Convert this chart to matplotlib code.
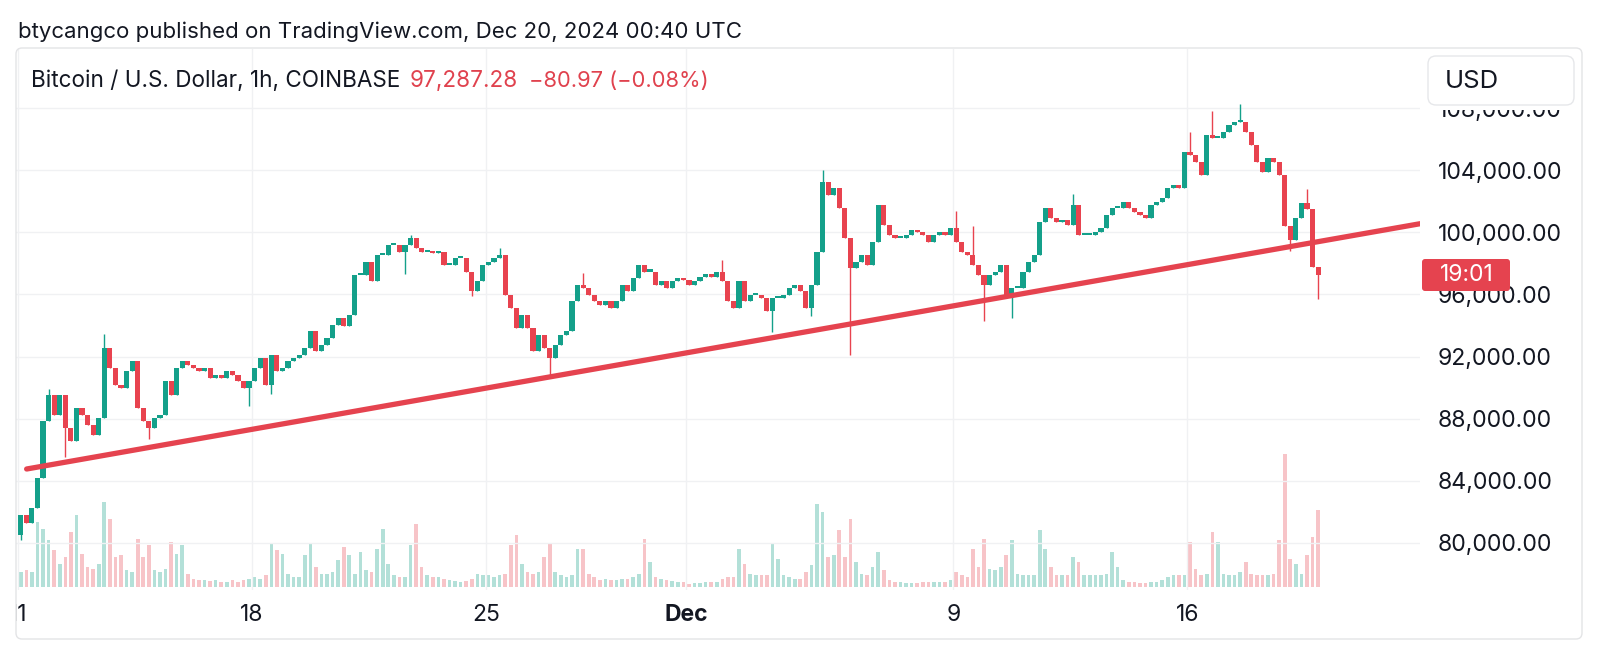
import numpy as np
import matplotlib
matplotlib.use("Agg")
import matplotlib.pyplot as plt
from matplotlib.patches import FancyBboxPatch, Rectangle
from matplotlib.transforms import IdentityTransform, Bbox, TransformedBbox

W, H = 1597, 652

plt.rcParams["font.family"] = ["Inter", "DejaVu Sans"]

# 4h candles, hour 0 = Nov 11 2024 00:00 UTC
first_open = 80518
closes = [
    81807, 81270, 82236, 84168, 87818, 89536, 88248, 89536, 87389, 86530,
    88677, 88248, 87604, 86959, 88033, 92542, 91254, 90180, 89965, 91039,
    91683, 88677, 87818, 87389, 88033, 88248, 90395, 89536, 91254, 91683,
    91468, 91254, 91039, 91254, 90609, 90824, 90609, 91039, 90824, 90395,
    89965, 90395, 91254, 91898, 90180, 92113, 91039, 91254, 91683, 91898,
    92113, 92542, 93616, 92327, 92757, 93186, 94045, 94470, 93940, 94689,
    97265, 97265, 98124, 96836, 98554, 98554, 99197, 99197, 98768, 99197,
    99627, 98983, 98768, 98768, 98661, 98768, 97909, 97909, 98339, 98339,
    97480, 96192, 96836, 97909, 98124, 98339, 98554, 95977, 95118, 93830,
    94689, 93830, 92327, 93401, 92542, 91898, 92757, 93401, 93615, 95547,
    96621, 96406, 95977, 95547, 95333, 95547, 95118, 95547, 96621, 96192,
    97051, 97909, 97480, 97480, 96621, 96836, 96406, 96836, 97051, 96943,
    96621, 96836, 97158, 97265, 97158, 97480, 96836, 95547, 95118, 96836,
    95547, 95977, 95977, 95762, 94903, 95762, 95762, 95977, 96406, 96621,
    96192, 95118, 96621, 98768, 103277, 102418, 102847, 101559, 99627, 97694,
    98124, 98554, 97909, 99412, 101774, 100485, 99841, 99627, 99627, 99841,
    100164, 100056, 99841, 99412, 99841, 100056, 99841, 100271, 99412, 98768,
    98554, 97909, 97265, 96621, 97265, 97480, 97909, 95977, 96406, 96406,
    97480, 98124, 98554, 100700, 101559, 100915, 100700, 100807, 100485, 101774,
    99841, 99841, 99841, 100056, 100271, 101130, 101559, 101559, 101988, 101559,
    101344, 101130, 100915, 101774, 101988, 102203, 102847, 103062, 102847, 105209,
    104994, 104565, 103706, 106282, 106068, 106068, 106497, 106927, 107141, 107141,
    106497, 105638, 104565, 103921, 104780, 104565, 103700, 100400, 99500, 100900,
    101900, 101500, 97800, 97287,
]

# volume bar heights (relative units, peak of the hourly bars in each 4h slot)
volumes = [
    45, 50, 45, 195, 175, 140, 110, 70, 90, 165,
    215, 100, 60, 55, 70, 255, 205, 90, 95, 50,
    45, 145, 90, 125, 50, 45, 55, 135, 100, 125,
    40, 25, 20, 20, 18, 20, 15, 15, 20, 15,
    20, 25, 30, 25, 35, 130, 110, 100, 40, 30,
    30, 95, 130, 60, 40, 40, 45, 80, 120, 95,
    40, 105, 50, 45, 115, 175, 70, 35, 30, 30,
    125, 190, 60, 35, 30, 30, 25, 20, 18, 15,
    18, 25, 40, 35, 35, 30, 35, 40, 125, 155,
    70, 45, 40, 45, 90, 130, 45, 35, 30, 35,
    115, 115, 40, 30, 20, 25, 20, 20, 25, 25,
    30, 40, 145, 75, 30, 25, 20, 18, 15, 15,
    10, 12, 12, 15, 15, 15, 25, 30, 30, 115,
    70, 40, 35, 35, 35, 130, 85, 35, 30, 25,
    25, 45, 65, 250, 225, 90, 95, 170, 90, 205,
    75, 40, 35, 60, 105, 50, 20, 15, 15, 12,
    12, 12, 15, 15, 15, 15, 15, 20, 45, 35,
    30, 115, 60, 145, 55, 50, 60, 95, 140, 40,
    35, 35, 35, 170, 115, 60, 35, 35, 35, 90,
    75, 35, 35, 35, 35, 40, 105, 60, 20, 15,
    15, 12, 12, 15, 15, 20, 30, 35, 35, 35,
    135, 55, 35, 40, 165, 135, 40, 35, 35, 45,
    75, 40, 35, 35, 35, 40, 140, 400, 85, 70,
    40, 95, 150, 230,
]

# long wicks visible on the chart: candle index -> extreme price
spike_idx = [0, 5, 8, 15, 23, 41, 45, 69, 70, 81, 86, 95, 101, 126, 135, 142,
             144, 149, 168, 171, 173, 178, 189, 210, 214, 219, 228, 231, 233]
spike_price = [80200, 89900, 85500, 93430, 86700, 88800, 89600, 97300, 99850,
               95900, 98990, 90800, 97400, 98200, 93600, 94600, 104050, 92100,
               101400, 100400, 94300, 94500, 102500, 106500, 107800, 108300,
               98800, 102800, 95700]

tick_hours = [0, 168, 336, 480, 672, 840]
tick_labels = ["11", "18", "25", "Dec", "9", "16"]
price_ticks = [80000, 84000, 88000, 92000, 96000, 100000, 104000, 108000]

trend_hours = [6.2, 1007.2]
trend_prices = [84750, 100560]

UP = "#14a08a"
DOWN = "#e8434f"
TXT = "#131722"
GRID = "#f0f1f3"
PT = 100 / 72  # pixels per point at dpi 100


def fx(x):
    return x / W


def fy(y):
    return 1 - y / H


def px_box(x0, y0, x1, y1, **kw):
    # rounded box given in image pixels (y down)
    return FancyBboxPatch((x0, H - y1), x1 - x0, y1 - y0,
                          transform=IdentityTransform(), **kw)


closes = np.array(closes, dtype=float)
opens = np.concatenate([[first_open], closes[:-1]])
highs = np.maximum(opens, closes)
lows = np.minimum(opens, closes)
for i, p in zip(spike_idx, spike_price):
    if p > highs[i]:
        highs[i] = p
    else:
        lows[i] = min(lows[i], p)
t = np.arange(len(closes)) * 4 + 2
up = closes >= opens
colors = np.where(up, UP, DOWN)

fig = plt.figure(figsize=(W / 100, H / 100), dpi=100)
fig.patch.set_facecolor("white")

ax = fig.add_axes([fx(16), fy(590), fx(1420 - 16), (590 - 49) / H])
ax_vol = ax.twinx()
ax.set_zorder(ax_vol.get_zorder() + 1)
ax.patch.set_visible(False)

# volume
vol_cols = np.where(up, "#b3e0d8", "#f7c4c8")
ax_vol.bar(t, volumes, width=2.6, color=vol_cols, linewidth=0)
ax_vol.set_ylim(-9, 1614)
ax_vol.set_yticks([])
for s in ax_vol.spines.values():
    s.set_visible(False)

# candles
ax.vlines(t, lows, highs, colors=colors, linewidth=1.0, zorder=3)
body = np.maximum(np.abs(closes - opens), 130)
ax.bar(t, body, bottom=np.minimum(opens, closes), width=3.7,
       color=colors, linewidth=0, zorder=3)

# trend line
ax.plot(trend_hours, trend_prices, color="#e5434f", linewidth=3.8,
        solid_capstyle="round", zorder=5)

ax.set_xlim(-1.44, 1007.2)
ax.set_ylim(76951, 111822)

ax.set_yticks(price_ticks)
ax.set_yticklabels([f"{p:,.2f}" for p in price_ticks])
ax.yaxis.tick_right()
ax.set_xticks(tick_hours)
ax.set_xticklabels(tick_labels)
ax.tick_params(axis="y", length=0, pad=13, labelsize=16.5, labelcolor=TXT)
ax.tick_params(axis="x", length=0, pad=18, labelsize=15.5, labelcolor=TXT)

ax.grid(True, color=GRID, linewidth=1.0)
ax.set_axisbelow(True)
for s in ax.spines.values():
    s.set_visible(False)

# size the price scale text so "104,000.00" spans x 1438..1563 as on the original
fig.canvas.draw()
r = fig.canvas.get_renderer()
ref_lbl = [l for l in ax.get_yticklabels() if l.get_text() == "104,000.00"][0]
bb = ref_lbl.get_window_extent(r)
scale_size = 16.5 * 125 / bb.width
ax.tick_params(axis="y", labelsize=scale_size, pad=13 + (1438 - bb.x0) / PT)
ax.tick_params(axis="x", labelsize=min(scale_size, 16.5))

for lbl in ax.get_xticklabels():
    lbl.set_va("center")
    if lbl.get_text() == "Dec":
        lbl.set_fontweight("bold")
# first date label is cut by the chart edge
clip = TransformedBbox(Bbox([[16, 0], [W, H]]), IdentityTransform())
ax.get_xticklabels()[0].set_clip_box(clip)
ax.get_xticklabels()[0].set_clip_on(True)

# header texts
fig.text(fx(18), fy(32), "btycangco published on TradingView.com, Dec 20, 2024 00:40 UTC",
         fontsize=16, color=TXT, va="center")
fig.text(fx(31), fy(81), "Bitcoin / U.S. Dollar, 1h, COINBASE",
         fontsize=16.2, color=TXT, va="center")
fig.text(fx(410), fy(81), "97,287.28", fontsize=16.2, color="#e0424e", va="center")
fig.text(fx(529), fy(81), "\u221280.97 (\u22120.08%)", fontsize=15.8,
         color="#e0424e", va="center")

# chart frame
fig.add_artist(px_box(16, 48, 1582, 639, boxstyle="round,pad=0,rounding_size=6",
                      facecolor="none", edgecolor="#e3e4e6", linewidth=1.0, zorder=6))

# USD button (with the white margin that hides most of the top price label)
fig.add_artist(Rectangle((1424, H - 110), 154, 58, transform=IdentityTransform(),
                         facecolor="white", edgecolor="none", zorder=6.5))
fig.add_artist(px_box(1428, 56, 1574, 105, boxstyle="round,pad=0,rounding_size=8",
                      facecolor="white", edgecolor="#e6e7ea", linewidth=1.0, zorder=7))
fig.text(fx(1445), fy(82), "USD", fontsize=18.5, color=TXT, va="center", zorder=8)

# last price label
fig.add_artist(px_box(1422, 259, 1510, 291, boxstyle="round,pad=0,rounding_size=3",
                      facecolor="#e5434f", edgecolor="none", zorder=7))
fig.text(fx(1467), fy(275), "19:01", fontsize=min(scale_size, 16.5), color="white",
         ha="center", va="center", zorder=8)

fig.savefig("out.png", dpi=100, facecolor="white")
